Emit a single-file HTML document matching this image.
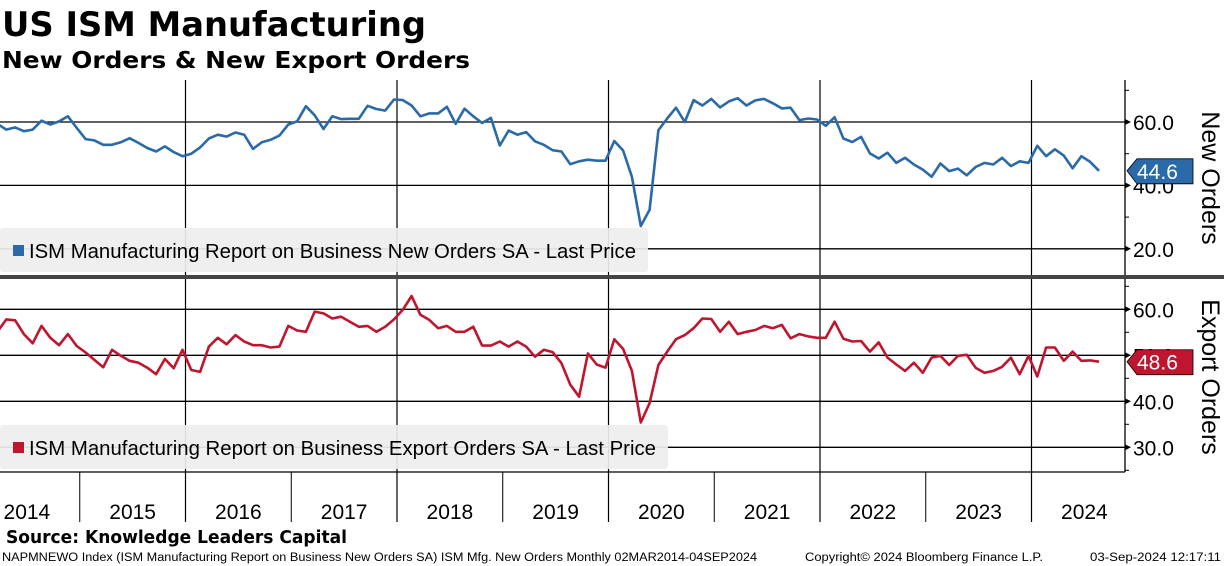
<!DOCTYPE html>
<html><head><meta charset="utf-8"><style>
body{margin:0;background:#fff;width:1224px;height:566px;overflow:hidden;font-family:"Liberation Sans","DejaVu Sans",sans-serif}
svg{display:block}
</style></head><body>
<svg id="c" width="1224" height="566" xmlns="http://www.w3.org/2000/svg">
<text x="2" y="36" font-size="34" font-weight="bold" fill="#000" font-family="DejaVu Sans, sans-serif" textLength="424" lengthAdjust="spacingAndGlyphs">US ISM Manufacturing</text>
<text x="2" y="68" font-size="23" font-weight="bold" fill="#000" font-family="DejaVu Sans, sans-serif" textLength="468" lengthAdjust="spacingAndGlyphs">New Orders &amp; New Export Orders</text>
<g id="grid"></g>
<g id="series"></g>
<g id="legends"></g>
<g id="axes"></g>
<text x="6" y="543" font-size="18" font-weight="bold" fill="#000" font-family="DejaVu Sans, sans-serif" textLength="341" lengthAdjust="spacingAndGlyphs">Source: Knowledge Leaders Capital</text>
<text x="2" y="561" font-size="11.5" fill="#000" textLength="755" lengthAdjust="spacingAndGlyphs">NAPMNEWO Index (ISM Manufacturing Report on Business New Orders SA) ISM Mfg. New Orders  Monthly 02MAR2014-04SEP2024</text>
<text x="805" y="561" font-size="11.5" fill="#000" textLength="238" lengthAdjust="spacingAndGlyphs">Copyright© 2024 Bloomberg Finance L.P.</text>
<text x="1090" y="561" font-size="11.5" fill="#000" textLength="131" lengthAdjust="spacingAndGlyphs">03-Sep-2024 12:17:11</text>
</svg>
<script>
const years = ["2014","2015","2016","2017","2018","2019","2020","2021","2022","2023","2024"];
const newOrders = [59.4,57.6,58.3,57.1,57.6,60.4,59.2,60.2,61.8,58.1,
54.6,54.2,52.8,52.8,53.6,54.9,53.4,51.8,50.7,52.3,50.5,49.2,
50.0,52.0,54.8,56.0,55.4,56.7,56.0,51.5,53.6,54.4,55.7,59.2,
60.2,65.0,62.1,57.8,61.8,60.9,61.0,61.0,65.1,64.1,63.6,67.1,
66.9,65.2,61.8,62.7,62.7,64.8,59.4,64.2,61.8,59.7,61.3,52.6,
57.3,56.0,56.8,53.9,52.8,51.1,50.7,46.7,47.6,48.1,47.8,47.8,
54.0,51.0,42.7,27.2,32.3,57.4,61.1,64.5,60.0,66.9,65.2,67.3,
64.6,66.5,67.5,65.2,66.8,67.3,65.9,64.3,64.5,60.6,61.1,60.8,
58.8,61.5,54.8,53.7,55.3,50.1,48.5,50.3,47.1,48.7,46.6,45.0,
42.7,46.9,44.5,45.3,43.2,45.8,47.1,46.6,48.7,46.1,47.6,47.1,
52.5,49.2,51.4,49.4,45.4,49.2,47.4,44.6];
const exportOrders = [55.1,57.8,57.6,54.6,52.6,56.4,53.8,52.2,54.6,52.0,
50.6,49.0,47.4,51.2,49.9,48.8,48.4,47.3,45.9,49.2,
47.2,51.2,46.8,46.4,51.9,53.8,52.4,54.4,53.0,52.2,
52.2,51.7,51.9,56.4,55.4,55.1,59.5,59.1,58.0,58.4,
57.3,56.2,56.4,55.1,56.2,57.8,59.9,62.9,58.8,57.7,
55.9,56.4,55.1,55.1,56.2,52.1,52.1,53.0,51.9,53.0,
51.9,49.7,51.2,50.7,48.3,43.6,41.0,50.4,48.0,47.3,
53.5,51.4,46.6,35.4,39.6,47.9,50.8,53.5,54.4,55.9,58.0,
57.9,55.1,57.3,54.6,55.1,55.5,56.4,55.9,56.6,53.7,54.6,54.1,
53.8,53.8,57.3,53.6,53.0,53.1,50.8,52.8,49.5,48.0,46.6,48.4,
46.2,49.5,49.9,47.9,49.9,50.1,47.3,46.2,46.6,47.5,49.5,45.9,
49.9,45.4,51.7,51.7,48.8,50.8,48.8,48.9,48.6];
const topTicks = [60, 40, 20];
const botTicks = [60, 50, 40, 30];

const NS="http://www.w3.org/2000/svg";
const PR=1125, YW=105.75, X2014=-26;
const xYear = i => X2014 + i*YW;
const xPt = i => 1099 - (newOrders.length-1-i)*(YW/12);
const yTop = v => 122 + (60-v)*3.17;
const yBot = v => 309.3 + (60-v)*4.6;
function mk(tag, attrs, parent){const e=document.createElementNS(NS,tag);for(const k in attrs)e.setAttribute(k,attrs[k]);parent.appendChild(e);return e;}
const grid=document.getElementById('grid'), ser=document.getElementById('series'), leg=document.getElementById('legends'), ax=document.getElementById('axes');

const defs=mk('defs',{},document.getElementById('c'));
const cp1=mk('clipPath',{id:'cp1'},defs); mk('rect',{x:0,y:80,width:PR,height:195},cp1);
const cp2=mk('clipPath',{id:'cp2'},defs); mk('rect',{x:0,y:280,width:PR,height:192},cp2);

topTicks.forEach(t=>{
  const l=mk('line',{x1:0,x2:PR,y1:yTop(t),y2:yTop(t),stroke:'#000','stroke-width':1.3},grid);
  
  
  const tx=mk('text',{x:1133,y:yTop(t)+8,'font-size':21,fill:'#000'},ax); tx.textContent=t.toFixed(1);
  
  
  mk('path',{d:`M${PR} ${yTop(t)-3}L${PR+6} ${yTop(t)}L${PR} ${yTop(t)+3}Z`,fill:'#000'},ax);
});
[70,50,30,10].forEach(t=>{ if(yTop(t)>80&&yTop(t)<275) mk('line',{x1:PR,x2:PR+4,y1:yTop(t),y2:yTop(t),stroke:'#000'},ax);});
botTicks.forEach(t=>{
  const l=mk('line',{x1:0,x2:PR,y1:yBot(t),y2:yBot(t),stroke:'#000','stroke-width':1.3},grid);
  
  
  const tx=mk('text',{x:1133,y:yBot(t)+8,'font-size':21,fill:'#000'},ax); tx.textContent=t.toFixed(1);
  
  
  mk('path',{d:`M${PR} ${yBot(t)-3}L${PR+6} ${yBot(t)}L${PR} ${yBot(t)+3}Z`,fill:'#000'},ax);
});
[65,55,45,35,25].forEach(t=>{ if(yBot(t)>280&&yBot(t)<472) mk('line',{x1:PR,x2:PR+4,y1:yBot(t),y2:yBot(t),stroke:'#000'},ax);});

years.forEach((y,i)=>{
  const x=xYear(i);
  if(i>0){
    if(i%2===0){
      const l=mk('line',{x1:x,x2:x,y1:80,y2:522,stroke:'#000','stroke-width':1.2},grid);
      
      
    } else {
      mk('line',{x1:x,x2:x,y1:472,y2:522,stroke:'#000','stroke-width':1},grid);
    }
  }
  const t=mk('text',{x:x+YW/2,y:519,'font-size':21,fill:'#000','text-anchor':'middle'},ax); t.textContent=y;
  
  
});

mk('line',{x1:PR,x2:PR,y1:80,y2:472,stroke:'#000','stroke-width':1.3},ax);
mk('line',{x1:0,x2:PR,y1:472,y2:472,stroke:'#000','stroke-width':1.3},ax);
const sep=mk('rect',{x:0,y:275,width:1224,height:4,fill:'#444'},ax);



function line(data, yf, color, clip, name){
  const d=data.map((v,i)=>(i?'L':'M')+xPt(i).toFixed(1)+' '+yf(v).toFixed(1)).join('');
  const p=mk('path',{d:d,fill:'none',stroke:color,'stroke-width':2.6,'stroke-linejoin':'round','clip-path':'url(#'+clip+')'},ser);
  
  
}
line(newOrders,yTop,'#2a6aa8','cp1','new-orders-line');
line(exportOrders,yBot,'#c0152f','cp2','export-orders-line');

function legend(y,w,tl,color,text,name){
  const g=mk('g',{},leg);
  
  
  mk('rect',{x:0,y:y,width:w,height:44,rx:3,fill:'#eeeeee','fill-opacity':0.92},g);
  mk('rect',{x:13,y:y+17,width:11,height:11,fill:color},g);
  const t=mk('text',{x:29,y:y+30,'font-size':20,fill:'#000',textLength:tl,lengthAdjust:'spacingAndGlyphs'},g); t.textContent=text;
}
legend(228,648,607,'#2a6aa8','ISM Manufacturing Report on Business New Orders SA - Last Price','new-orders-legend');
legend(425,668,627,'#c0152f','ISM Manufacturing Report on Business Export Orders SA - Last Price','export-orders-legend');

function tag(v,yf,color,name){
  const y=yf(v);
  const g=mk('g',{},ax);
  
  
  mk('path',{d:`M1127 ${y}L1137 ${y-12}L1193 ${y-12}L1193 ${y+13}L1137 ${y+13}Z`,fill:color,stroke:'#000','stroke-width':0.8},g);
  const t=mk('text',{x:1137,y:y+8,'font-size':21,fill:'#fff'},g); t.textContent=v.toFixed(1);
}
tag(newOrders[newOrders.length-1],yTop,'#2a6aa8','new-orders-last-value');
tag(exportOrders[exportOrders.length-1],yBot,'#c0152f','export-orders-last-value');

function vt(x,y,text,name){
  const t=mk('text',{x:x,y:y,'font-size':25,fill:'#000','text-anchor':'middle',transform:`rotate(90 ${x} ${y})`},ax);
  t.textContent=text;
  
  
}
vt(1202,178,'New Orders','top-y-axis-title');
vt(1202,377,'Export Orders','bottom-y-axis-title');
</script>
</body></html>
